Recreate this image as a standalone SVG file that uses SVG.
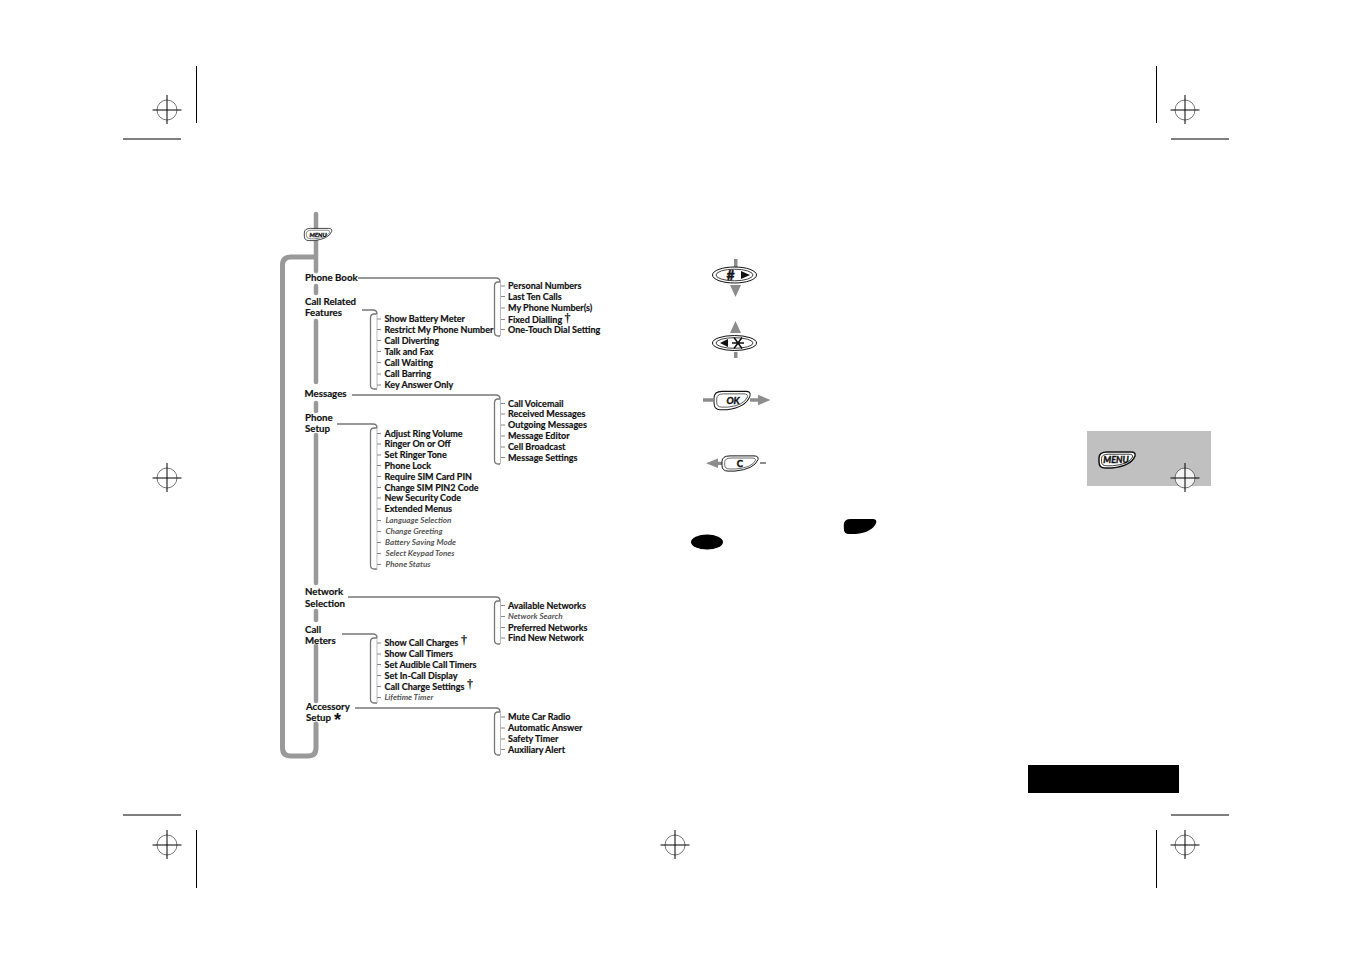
<svg xmlns="http://www.w3.org/2000/svg" width="1352" height="954" viewBox="0 0 1352 954">
<style>
text{font-family:Lato,"Open Sans",sans-serif;fill:#111}
.n{font-size:9px;font-weight:700;stroke:#111;stroke-width:.18}
.h{font-size:9.700px;font-weight:700;stroke:#111;stroke-width:.18}
.g{font-size:8.100px;font-weight:700;font-style:italic;fill:#555}
.d{font-size:12px;font-weight:700;font-family:"Liberation Serif",serif}
.q{font-weight:700;font-style:italic;stroke:#111;stroke-width:.4}
.c{fill:none;stroke:#777;stroke-width:1.3}
.w{fill:none;stroke:#bbb;stroke-width:1}
.t{fill:none;stroke:#888;stroke-width:1}
.b{fill:none;stroke:#999;stroke-width:4.500;stroke-linecap:round}
.m{fill:none;stroke:#000;stroke-width:1}
.a{fill:#8c8c8c}
.k{fill:#fff;stroke:#111;stroke-width:1}
.i{fill:none;stroke:#111;stroke-width:.8}
</style>
<defs>
<g id="reg"><circle r="10" fill="none" stroke="#555" stroke-width=".8"/><path d="M-14.500 0H14.500M0-15V14" class="m"/></g>
<path id="menu" d="M-18-2Q-18-8-10-8L14-8Q19-8 18-4Q14 6-5 8L-12 8Q-18 8-18 2Z"/>
</defs>
<g id="crop-marks">
<use href="#reg" x="167" y="110"/><use href="#reg" x="1185" y="110"/><use href="#reg" x="167" y="478"/>
<use href="#reg" x="167" y="845"/><use href="#reg" x="675" y="845"/><use href="#reg" x="1185" y="845"/>
<path class="m" d="M196.500 66V123M123 139H181M1156.500 66V123M1171 139H1229M123 815H181M196.500 830V888M1171 815H1229M1156.500 830V888"/>
</g>
<g id="tab"><rect x="1087" y="431" width="124" height="55" fill="#c0c0c0"/>
<g transform="translate(1117,460)"><use href="#menu" fill="#fff" stroke="#111" stroke-width="1.500"/><use href="#menu" transform="scale(.86,.72)" fill="#fff" stroke="#111" stroke-width="1"/><text class="q" x="-1" y="3" text-anchor="middle" style="font-size:9px">MENU</text></g>
<g transform="translate(1185,478)"><circle r="10" fill="#f4f4f4" stroke="#555" stroke-width=".8"/><path d="M-14.500 0H14.500M0-15V14" class="m"/></g></g>
<rect id="black-tab" x="1028" y="765" width="151" height="28" fill="#000"/>
<g id="connectors">
<path class="b" d="M316 214V271M316 286V293M316 321V382M316 403V411M316 435V583M316 611V620M316 646V701"/>
<path class="b" style="stroke-width:5" d="M316 724V748Q316 756 308 756H291Q282.500 756 282.500 748V265Q282.500 257 291 257H314"/>
<path class="c" d="M358 278H496Q500 278 500 282M352 395H496Q500 395 500 399M348 597H496Q500 597 500 601M355 708H496Q500 708 500 712M362 310H373Q377 310 377 314M337 424H373Q377 424 377 428M342 634H373Q377 634 377 638"/>
<path class="c" d="M500 282H498Q494.500 282 494.500 286V332Q494.500 336 498 336H500M500 399H498Q494.500 399 494.500 403V460Q494.500 464 498 464H500M500 601H498Q494.500 601 494.500 605V640Q494.500 644 498 644H500M500 712H498Q494.500 712 494.500 716V751Q494.500 755 498 755H500M377 314H374Q370.500 314 370.500 318V385Q370.500 389 374 389H377M377 428H374Q370.500 428 370.500 432V565Q370.500 569 374 569H377M377 638H374Q370.500 638 370.500 642V699Q370.500 703 374 703H377"/>
<path class="w" d="M500.500 282V336M500.500 399V464M500.500 601V644M500.500 712V755M377 314V389M377 428V569M377 638V703"/>
<path class="t" d="M501 286H505M501 296.500H505M501 308H505M501 319.500H505M501 329.500H505M377 319H381M377 329.500H381M377 340.500H381M377 351.500H381M377 362.500H381M377 374H381M377 385H381M501 403.500H505M501 414H505M501 425H505M501 436H505M501 447H505M501 457.500H505M377 433.500H381M377 444H381M377 455H381M377 465.500H381M377 476.500H381M377 487.500H381M377 498H381M377 509H381M377 520.500H381M377 531.500H381M377 542.500H381M377 553.500H381M377 564.500H381M501 605.500H505M501 616.500H505M501 627.500H505M501 638H505M377 643H381M377 654H381M377 664.500H381M377 675.500H381M377 686.500H381M377 697.500H381M501 717H505M501 728H505M501 739H505M501 749.500H505"/>
</g>
<g id="menu-key" transform="translate(318,234.500) scale(.76)"><use href="#menu" class="k" stroke-width="1.500"/><use href="#menu" transform="scale(.85,.7)" class="i"/><text class="q" y="3" text-anchor="middle" style="font-size:8px">MENU</text></g>
<g id="top-level">
<g id="n-phone-book"><text class="h" x="305" y="281">Phone Book</text></g>
<g id="n-call-related"><text class="h" x="305" y="304.500">Call Related</text><text class="h" x="305" y="316">Features</text></g>
<g id="n-messages"><text class="h" x="304.500" y="397">Messages</text></g>
<g id="n-phone-setup"><text class="h" x="305" y="420.500">Phone</text><text class="h" x="305" y="432">Setup</text></g>
<g id="n-network"><text class="h" x="305" y="595">Network</text><text class="h" x="305" y="606.500">Selection</text></g>
<g id="n-call-meters"><text class="h" x="305" y="632.500">Call</text><text class="h" x="305" y="643.500">Meters</text></g>
<g id="n-accessory"><text class="h" x="306" y="710">Accessory</text><text class="h" x="306" y="721">Setup</text><text x="334" y="726" style="font-size:18px;font-weight:700;font-family:'Liberation Sans',sans-serif">*</text></g>
</g>
<g id="list-phone-book"><text class="n" x="508" y="289">Personal Numbers</text><text class="n" x="508" y="299.500">Last Ten Calls</text><text class="n" x="508" y="311">My Phone Number(s)</text><text class="n" x="508" y="322.500">Fixed Dialling</text><text class="d" x="564.500" y="322">†</text><text class="n" x="508" y="332.500">One-Touch Dial Setting</text></g>
<g id="list-call-related"><text class="n" x="384.500" y="322">Show Battery Meter</text><text class="n" x="384.500" y="332.500">Restrict My Phone Number</text><text class="n" x="384.500" y="343.500">Call Diverting</text><text class="n" x="384.500" y="354.500">Talk and Fax</text><text class="n" x="384.500" y="365.500">Call Waiting</text><text class="n" x="384.500" y="377">Call Barring</text><text class="n" x="384.500" y="388">Key Answer Only</text></g>
<g id="list-messages"><text class="n" x="508" y="406.500">Call Voicemail</text><text class="n" x="508" y="417">Received Messages</text><text class="n" x="508" y="428">Outgoing Messages</text><text class="n" x="508" y="439">Message Editor</text><text class="n" x="508" y="450">Cell Broadcast</text><text class="n" x="508" y="460.500">Message Settings</text></g>
<g id="list-phone-setup"><text class="n" x="384.500" y="436.500">Adjust Ring Volume</text><text class="n" x="384.500" y="447">Ringer On or Off</text><text class="n" x="384.500" y="458">Set Ringer Tone</text><text class="n" x="384.500" y="468.500">Phone Lock</text><text class="n" x="384.500" y="479.500">Require SIM Card PIN</text><text class="n" x="384.500" y="490.500">Change SIM PIN2 Code</text><text class="n" x="384.500" y="501">New Security Code</text><text class="n" x="384.500" y="512">Extended Menus</text><text class="g" x="385.500" y="523">Language Selection</text><text class="g" x="385.500" y="534">Change Greeting</text><text class="g" x="385" y="545">Battery Saving Mode</text><text class="g" x="385.500" y="556">Select Keypad Tones</text><text class="g" x="385.500" y="567">Phone Status</text></g>
<g id="list-network"><text class="n" x="508" y="608.500">Available Networks</text><text class="g" x="508" y="619">Network Search</text><text class="n" x="508" y="630.500">Preferred Networks</text><text class="n" x="508" y="641">Find New Network</text></g>
<g id="list-call-meters"><text class="n" x="384.500" y="646">Show Call Charges</text><text class="d" x="461" y="644">†</text><text class="n" x="384.500" y="657">Show Call Timers</text><text class="n" x="384.500" y="667.500">Set Audible Call Timers</text><text class="n" x="384.500" y="678.500">Set In-Call Display</text><text class="n" x="384.500" y="689.500">Call Charge Settings</text><text class="d" x="467" y="688">†</text><text class="g" x="384.500" y="700">Lifetime Timer</text></g>
<g id="list-accessory"><text class="n" x="508" y="720">Mute Car Radio</text><text class="n" x="508" y="731">Automatic Answer</text><text class="n" x="508" y="742">Safety Timer</text><text class="n" x="508" y="752.500">Auxiliary Alert</text></g>
<g id="key-hash"><path class="a" d="M734 259h3.500v9h-3.500zM730 285h11l-5.500 12z"/><ellipse cx="734.500" cy="275" rx="22" ry="8" class="k"/><ellipse cx="734.500" cy="275" rx="18.500" ry="5.800" class="i"/><text x="730.500" y="280" text-anchor="middle" style="font-size:14px;font-weight:700;stroke:#111;stroke-width:.4">#</text><polygon points="741,271 750,275 741,279" fill="#111"/></g>
<g id="key-star"><path class="a" d="M734 352h3.500v6h-3.500zM730 333h11l-5.500-12z"/><ellipse cx="734.500" cy="343" rx="22" ry="7.500" class="k"/><ellipse cx="734.500" cy="343" rx="18.500" ry="5.300" class="i"/><polygon points="728,339 720,343 728,347" fill="#111"/><path d="M734 337.500L742 348.500M742 337.500L734 348.500M732 343H744" stroke="#111" stroke-width="1.500" fill="none"/></g>
<g id="key-ok"><path class="a" d="M703 398.300h10v3.400h-10zM750 398.300h8v-3.500l12.500 5.200-12.500 5.200v-3.500h-8z"/><g transform="translate(732,400.500) scale(1,1.150)"><use href="#menu" class="k"/><use href="#menu" transform="scale(.85,.72)" class="i"/></g><text class="q" x="733" y="403.500" text-anchor="middle" style="font-size:9.500px">OK</text></g>
<g id="key-c"><path class="a" d="M718 458.500v3.200h4v3.200h-4v3.200l-12-4.800zM760 462h6v2h-6z"/><g transform="translate(740,463.500) scale(1,.95)"><use href="#menu" class="k"/><use href="#menu" transform="scale(.85,.72)" class="i"/></g><text class="q" x="740" y="466.500" text-anchor="middle" style="font-size:9.500px;font-style:normal">C</text></g>
<g id="black-keys"><use href="#menu" transform="translate(860,526.500) scale(.9,.95)" fill="#000"/><ellipse cx="707" cy="542" rx="16" ry="7.500" fill="#000"/></g>
</svg>
